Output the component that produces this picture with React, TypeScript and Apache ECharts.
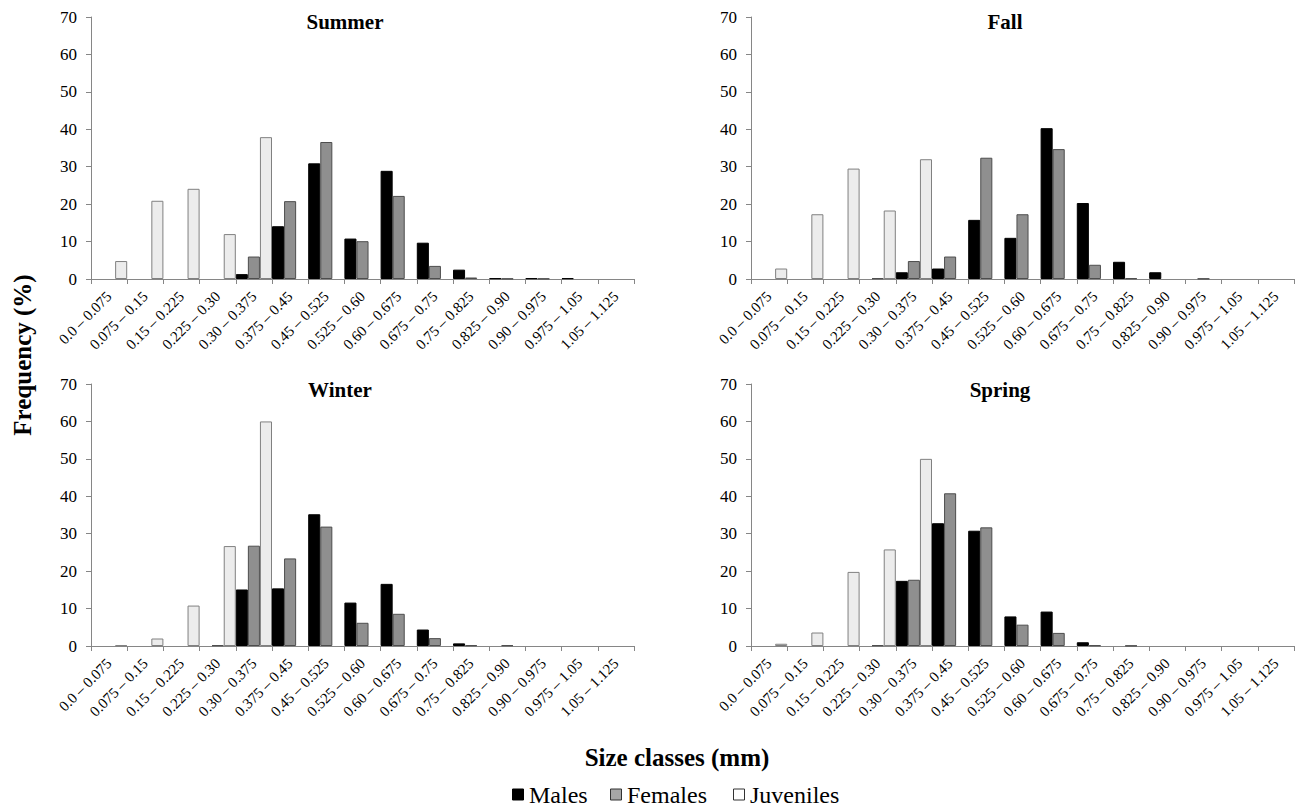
import React, { useEffect, useRef } from "react";
import * as echarts from "echarts";

const categories = [
  "0.0 – 0.075", "0.075 – 0.15", "0.15 – 0.225", "0.225 – 0.30", "0.30 – 0.375",
  "0.375 – 0.45", "0.45 – 0.525", "0.525 – 0.60", "0.60 – 0.675", "0.675 – 0.75",
  "0.75 – 0.825", "0.825 – 0.90", "0.90 – 0.975", "0.975 – 1.05", "1.05 – 1.125",
];

const summerMales = [0, 0, 0, 0, 1.3, 14.1, 30.9, 10.8, 28.9, 9.7, 2.5, 0.2, 0.2, 0.2, 0];
const summerFemales = [0, 0, 0, 0, 6.0, 20.8, 36.6, 10.1, 22.2, 3.5, 0.4, 0.1, 0.1, 0, 0];
const summerJuveniles = [4.8, 20.9, 24.1, 12.0, 37.9, 0, 0, 0, 0, 0, 0, 0, 0, 0, 0];

const fallMales = [0, 0, 0, 0, 1.8, 2.8, 15.8, 11.0, 40.3, 20.3, 4.6, 1.8, 0, 0, 0];
const fallFemales = [0, 0, 0, 0.2, 4.8, 6.0, 32.4, 17.3, 34.7, 3.8, 0.2, 0, 0.1, 0, 0];
const fallJuveniles = [2.8, 17.3, 29.5, 18.3, 32.0, 0, 0, 0, 0, 0, 0, 0, 0, 0, 0];

const winterMales = [0, 0, 0, 0, 15.1, 15.4, 35.2, 11.6, 16.6, 4.4, 0.7, 0, 0, 0, 0];
const winterFemales = [0, 0, 0, 0.2, 26.8, 23.4, 31.9, 6.2, 8.6, 2.1, 0.2, 0.2, 0, 0, 0];
const winterJuveniles = [0.2, 2.0, 10.8, 26.7, 60.0, 0, 0, 0, 0, 0, 0, 0, 0, 0, 0];

const springMales = [0, 0, 0, 0, 17.4, 32.8, 30.8, 7.9, 9.2, 1.0, 0, 0, 0, 0, 0];
const springFemales = [0, 0, 0, 0.2, 17.7, 40.8, 31.7, 5.7, 3.5, 0.2, 0.1, 0, 0, 0, 0];
const springJuveniles = [0.6, 3.6, 19.8, 25.8, 50.0, 0, 0, 0, 0, 0, 0, 0, 0, 0, 0];

const panelTitles = ["Summer", "Fall", "Winter", "Spring"];
const seriesNames = ["Males", "Females", "Juveniles"];
const yTickValues = [0, 10, 20, 30, 40, 50, 60, 70];

const panels = [
  [summerMales, summerFemales, summerJuveniles],
  [fallMales, fallFemales, fallJuveniles],
  [winterMales, winterFemales, winterJuveniles],
  [springMales, springFemales, springJuveniles],
];

const SERIF = '"Liberation Serif"';
const AXIS_COLOR = "#868686";

// font shorthand variants (explicit style/weight keywords)
const xLabelFonts = [
  `normal 15px ${SERIF}`,
  `normal 400 15px ${SERIF}`,
  `normal normal 15px ${SERIF}`,
  `400 15px ${SERIF}`,
];

const barStyles = [
  { color: "#000000", borderColor: "#000000", borderWidth: 1 },
  { color: "#8f8f8f", borderColor: "#4d4d4d", borderWidth: 1 },
  { color: "#ececec", borderColor: "#808080", borderWidth: 1 },
];

const legendSwatches = [
  { fill: "#000000", stroke: "#000000" },
  { fill: "#a6a6a6", stroke: "#333333" },
  { fill: "#ffffff", stroke: "#333333" },
];

const gridPos = [
  { left: 91, top: 17 },
  { left: 751, top: 17 },
  { left: 91, top: 384 },
  { left: 751, top: 384 },
];

const titlePos = [
  { x: 345, y: 22 },
  { x: 1005, y: 22 },
  { x: 340, y: 390 },
  { x: 1000, y: 390 },
];

const legendPos = { y: 795, itemX: [512, 610, 733] };

export default function App() {
  const ref = useRef<HTMLDivElement>(null);

  useEffect(() => {
    if (!ref.current) return;
    const chart = echarts.init(ref.current, undefined, { renderer: "svg" });

    const grids = gridPos.map((p) => ({
      left: p.left,
      top: p.top,
      width: 543,
      height: 262,
      containLabel: false,
      outerBoundsMode: "none",
    }));

    const xAxes = gridPos.map((_, i) => ({
      type: "category",
      gridIndex: i,
      data: categories,
      boundaryGap: true,
      axisLine: { show: true, lineStyle: { color: AXIS_COLOR, width: 1 } },
      axisTick: { show: true, interval: 0, length: 5, lineStyle: { color: AXIS_COLOR } },
      axisLabel: { show: false },
      splitLine: { show: false },
    }));

    const yAxes = gridPos.map((_, i) => ({
      type: "value",
      gridIndex: i,
      min: yTickValues[0],
      max: yTickValues[yTickValues.length - 1],
      interval: yTickValues[1] - yTickValues[0],
      axisLine: { show: true, lineStyle: { color: AXIS_COLOR, width: 1 } },
      axisTick: { show: true, length: 5, lineStyle: { color: AXIS_COLOR } },
      axisLabel: { show: false },
      splitLine: { show: false },
    }));

    const series: any[] = [];
    panels.forEach((panel, i) => {
      panel.forEach((values, k) => {
        series.push({
          type: "bar",
          name: seriesNames[k],
          xAxisIndex: i,
          yAxisIndex: i,
          data: values.map((v) => (v === 0 ? "-" : v)),
          barGap: "0%",
          barCategoryGap: "0%",
          itemStyle: barStyles[k],
        });
      });
    });

    chart.setOption({
      animation: false,
      backgroundColor: "#ffffff",
      grid: grids,
      xAxis: xAxes,
      yAxis: yAxes,
      series,
    } as any);

    const txt = (text: string, x: number, y: number, font: string, align: string, extra: any = {}) => ({
      type: "text",
      x,
      y,
      silent: true,
      ...extra,
      style: { text, font, fill: "#000", align, verticalAlign: "middle" },
    });

    const graphic: any[] = [];

    panelTitles.forEach((t, i) => {
      graphic.push(txt(t, titlePos[i].x, titlePos[i].y, `bold 21px ${SERIF}`, "center"));
    });

    gridPos.forEach((_, i) => {
      const p0 = chart.convertToPixel({ gridIndex: i }, [categories[0], 0]) as number[];
      const p1 = chart.convertToPixel({ gridIndex: i }, [categories[1], 0]) as number[];
      const axisX = p0[0] - (p1[0] - p0[0]) / 2;
      categories.forEach((c) => {
        const p = chart.convertToPixel({ gridIndex: i }, [c, 0]) as number[];
        graphic.push(
          txt(c, p[0], p[1] + 15, xLabelFonts[i], "right", { rotation: Math.PI / 4 })
        );
      });
      yTickValues.forEach((v) => {
        const p = chart.convertToPixel({ gridIndex: i }, [categories[0], v]) as number[];
        graphic.push(txt(String(v), axisX - 14, p[1], `normal 17px ${SERIF}`, "right"));
      });
    });

    graphic.push(txt("Size classes (mm)", 677, 757, `bold 25px ${SERIF}`, "center"));
    graphic.push(
      txt("Frequency (%)", 22, 355, `bold 25px ${SERIF}`, "center", { rotation: Math.PI / 2 })
    );

    seriesNames.forEach((n, k) => {
      const x0 = legendPos.itemX[k];
      graphic.push({
        type: "rect",
        silent: true,
        shape: { x: x0 + 0.5, y: legendPos.y - 6, width: 11, height: 11 },
        style: { fill: legendSwatches[k].fill, stroke: legendSwatches[k].stroke, lineWidth: 1 },
      });
      graphic.push(txt(n, x0 + 17, legendPos.y, `normal 24px ${SERIF}`, "left"));
    });

    chart.setOption({ graphic } as any);

    return () => chart.dispose();
  }, []);

  return (
    <div
      ref={ref}
      style={{ position: "absolute", left: 0, top: 0, width: 1298, height: 807 }}
    />
  );
}
